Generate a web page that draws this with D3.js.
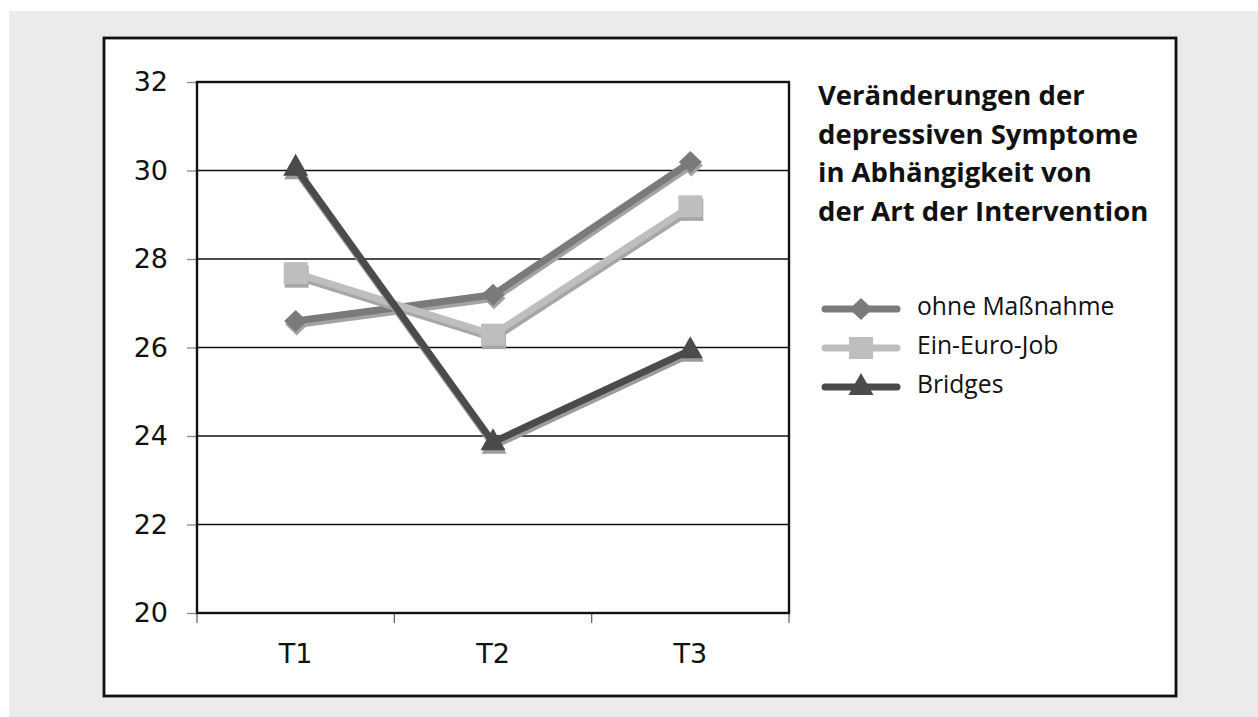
<!DOCTYPE html>
<html><head><meta charset="utf-8">
<script src="https://cdn.jsdelivr.net/npm/d3@7"></script>
<style>body{margin:0;background:#fff}svg{display:block}</style>
</head><body>
<svg id="c" width="1258" height="717"></svg>
<script>
const categories = ["T1", "T2", "T3"];
const yTicks = [20, 22, 24, 26, 28, 30, 32];
const seriesNames = ["ohne Maßnahme", "Ein-Euro-Job", "Bridges"];
const ohneMassnahme = [26.6, 27.19, 30.19];
const einEuroJob = [27.68, 26.29, 29.19];
const bridges = [30.06, 23.86, 25.94];
const titleLines = ["Veränderungen der", "depressiven Symptome", "in Abhängigkeit von", "der Art der Intervention"];

const series = [
  {name: seriesNames[0], values: ohneMassnahme, color: "#7a7a7a", shadow: "#a3a3a3", marker: "diamond"},
  {name: seriesNames[1], values: einEuroJob, color: "#bebebe", shadow: "#a6a6a6", marker: "square"},
  {name: seriesNames[2], values: bridges, color: "#4b4b4b", shadow: "#9c9c9c", marker: "triangle"}
];

const svg = d3.select("#c");
svg.append("rect").attr("x", 9).attr("y", 11).attr("width", 1249).attr("height", 706).attr("fill", "#ebebeb");
svg.append("rect").attr("x", 104).attr("y", 38).attr("width", 1072).attr("height", 658)
  .attr("fill", "#fff").attr("stroke", "#111").attr("stroke-width", 2.8);

const L = 197, R = 789, T = 82, B = 613;
const x = d3.scaleBand().domain(categories).range([L, R]);
const y = d3.scaleLinear().domain([20, 32]).range([B, T]);
const tickFont = "DejaVu Sans, Verdana, sans-serif";

// gridlines
svg.append("g").selectAll("line").data(yTicks.filter(v => v > 20 && v < 32)).join("line")
  .attr("x1", L).attr("x2", R).attr("y1", d => y(d)).attr("y2", d => y(d))
  .attr("stroke", "#111").attr("stroke-width", 1.3);

// y axis
const yAxis = svg.append("g").attr("transform", `translate(${L},0)`)
  .call(d3.axisLeft(y).tickValues(yTicks).tickSize(10).tickPadding(19).tickFormat(d3.format("d")));
yAxis.select(".domain").remove();
yAxis.selectAll(".tick line").attr("stroke", "#888").attr("stroke-width", 1.3);
yAxis.selectAll("text").attr("font-family", tickFont).attr("font-size", 27).attr("fill", "#111");

// x axis
const xAxis = svg.append("g").attr("transform", `translate(0,${B})`)
  .call(d3.axisBottom(x).tickSize(0).tickPadding(30));
xAxis.select(".domain").remove();
xAxis.selectAll("text").attr("font-family", tickFont).attr("font-size", 27).attr("fill", "#111").attr("dy", "0.74em");
const bounds = categories.map(c => x(c)).concat([R]);
svg.append("g").selectAll("line").data(bounds).join("line")
  .attr("x1", d => d).attr("x2", d => d).attr("y1", B).attr("y2", B + 10)
  .attr("stroke", "#666").attr("stroke-width", 1.3);

// plot frame
svg.append("rect").attr("x", L).attr("y", T).attr("width", R - L).attr("height", B - T)
  .attr("fill", "none").attr("stroke", "#111").attr("stroke-width", 2.4);

const cx = c => x(c) + x.bandwidth() / 2;
const line = d3.line().x((d, i) => cx(categories[i])).y(d => y(d));

function markerPath(type) {
  if (type === "diamond") return "M0,-11L11.5,0L0,11L-11.5,0Z";
  if (type === "square") return "M-12,-11H12V11H-12Z";
  return "M0,-14L12.5,8H-12.5Z";
}

series.forEach(s => {
  const g = svg.append("g");
  // shadow
  g.append("path").attr("d", line(s.values)).attr("fill", "none").attr("stroke", s.shadow)
    .attr("stroke-width", 7).attr("transform", "translate(1,3.5)");
  g.selectAll(".sm").data(s.values).join("path")
    .attr("d", markerPath(s.marker))
    .attr("transform", (d, i) => `translate(${cx(categories[i]) + 1},${y(d) + 3.5})`)
    .attr("fill", s.shadow);
  g.append("path").attr("d", line(s.values)).attr("fill", "none").attr("stroke", s.color)
    .attr("stroke-width", 7);
  g.selectAll(".mk").data(s.values).join("path")
    .attr("d", markerPath(s.marker))
    .attr("transform", (d, i) => `translate(${cx(categories[i])},${y(d)})`)
    .attr("fill", s.color);
});

// title
svg.append("text").attr("x", 818).attr("y", 105)
  .attr("font-family", "Open Sans, Noto Sans, sans-serif").attr("font-weight", "bold").attr("font-size", 27.5).attr("fill", "#111")
  .selectAll("tspan").data(titleLines).join("tspan")
  .attr("x", 818).attr("dy", (d, i) => i === 0 ? 0 : 38.7).text(d => d);

// legend
const legY = [309, 348, 387];
series.forEach((s, i) => {
  const g = svg.append("g").attr("transform", `translate(0,${legY[i]})`);
  g.append("line").attr("x1", 825).attr("x2", 897).attr("y1", 0).attr("y2", 0)
    .attr("stroke", s.color).attr("stroke-width", 7).attr("stroke-linecap", "round");
  g.append("path").attr("d", markerPath(s.marker))
    .attr("transform", `translate(861,0)`).attr("fill", s.color);
  g.append("text").attr("x", 917).attr("y", 6)
    .attr("font-family", "Open Sans, Noto Sans, sans-serif").attr("font-size", 24.7).attr("fill", "#111").text(s.name);
});
</script>
</body></html>
